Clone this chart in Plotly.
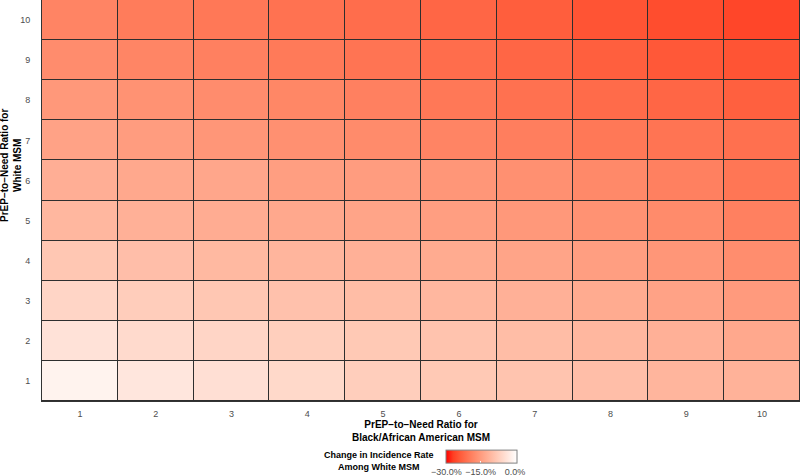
import plotly.graph_objs as go

# PrEP-to-Need ratios (axes) and change in incidence among White MSM (%)
black_ratio = [1, 2, 3, 4, 5, 6, 7, 8, 9, 10]
white_ratio = [1, 2, 3, 4, 5, 6, 7, 8, 9, 10]

# one list per white ratio (row), values across black ratio (columns)
chg_w1 = [-1.3, -3.4, -4.5, -5.6, -7.4, -8.2, -9.0, -9.9, -11.3, -11.7]
chg_w2 = [-4.0, -5.3, -6.2, -7.2, -8.2, -9.1, -10.1, -11.0, -12.0, -13.3]
chg_w3 = [-6.2, -7.5, -8.5, -9.4, -10.1, -11.0, -12.0, -12.9, -14.2, -15.4]
chg_w4 = [-8.5, -9.8, -10.7, -11.3, -12.0, -12.9, -13.9, -14.9, -16.0, -17.3]
chg_w5 = [-11.0, -12.0, -12.6, -13.3, -13.9, -14.9, -15.7, -16.6, -17.7, -19.2]
chg_w6 = [-12.3, -13.3, -13.6, -14.9, -15.1, -16.0, -16.9, -17.9, -19.2, -20.6]
chg_w7 = [-14.2, -15.1, -16.0, -16.9, -17.7, -18.6, -19.5, -20.4, -20.9, -21.4]
chg_w8 = [-15.7, -16.6, -17.5, -18.3, -19.2, -20.4, -21.3, -22.1, -22.8, -23.5]
chg_w9 = [-17.5, -18.5, -19.2, -20.1, -20.9, -21.9, -22.8, -23.7, -24.5, -24.9]
chg_w10 = [-18.6, -19.8, -20.4, -21.2, -21.9, -22.8, -23.8, -24.9, -25.7, -26.4]

cbar_ticks = [-30, -15, 0]
cbar_labels = ["\u221230.0%", "\u221215.0%", "0.0%"]
z_low, z_high = -30.4, 0.7


def lab_scale(n=11):
    # red -> white, interpolated in Lab like ggplot's gradient
    def to_lab(r, g, b):
        def lin(c):
            c = c / 255
            return c / 12.92 if c <= 0.04045 else ((c + 0.055) / 1.055) ** 2.4
        r, g, b = lin(r), lin(g), lin(b)
        x = (0.4124 * r + 0.3576 * g + 0.1805 * b) / 0.95047
        y = 0.2126 * r + 0.7152 * g + 0.0722 * b
        zz = (0.0193 * r + 0.1192 * g + 0.9505 * b) / 1.08883
        f = lambda t: t ** (1 / 3) if t > 0.008856 else 7.787 * t + 16 / 116
        fx, fy, fz = f(x), f(y), f(zz)
        return 116 * fy - 16, 500 * (fx - fy), 200 * (fy - fz)

    def to_rgb(L, a, b):
        fy = (L + 16) / 116
        fx = fy + a / 500
        fz = fy - b / 200
        finv = lambda t: t ** 3 if t ** 3 > 0.008856 else (t - 16 / 116) / 7.787
        x, y, zz = 0.95047 * finv(fx), finv(fy), 1.08883 * finv(fz)
        r = 3.2406 * x - 1.5372 * y - 0.4986 * zz
        g = -0.9689 * x + 1.8758 * y + 0.0415 * zz
        bb = 0.0557 * x - 0.2040 * y + 1.0570 * zz

        def gam(c):
            c = min(max(c, 0), 1)
            c = 12.92 * c if c <= 0.0031308 else 1.055 * c ** (1 / 2.4) - 0.055
            return int(round(c * 255))
        return "rgb({},{},{})".format(gam(r), gam(g), gam(bb))

    lo = to_lab(255, 0, 0)
    hi = to_lab(255, 255, 255)
    out = []
    for i in range(n):
        t = i / (n - 1)
        out.append([t, to_rgb(*[lo[k] + t * (hi[k] - lo[k]) for k in range(3)])])
    return out


z = [chg_w1, chg_w2, chg_w3, chg_w4, chg_w5, chg_w6, chg_w7, chg_w8, chg_w9, chg_w10]

W, H = 800, 476
ml, mr, mt, mb = 42, 0, 0, 75
pw, ph = W - ml - mr, H - mt - mb


def px(xp):
    return (xp - ml) / pw


def py(yp):
    return (ph + mt - yp) / ph


fig = go.Figure()
fig.add_trace(go.Heatmap(
    x=black_ratio, y=white_ratio, z=z,
    zmin=z_low, zmax=z_high,
    colorscale=lab_scale(),
    xgap=1, ygap=1,
    colorbar=dict(
        orientation="h",
        x=px(481), xanchor="center",
        y=py(465), yanchor="middle",
        lenmode="pixels", len=71,
        thicknessmode="pixels", thickness=13,
        xpad=0, ypad=0,
        outlinewidth=1, outlinecolor="#808080",
        tickvals=cbar_ticks, ticktext=cbar_labels,
        ticks="inside", ticklen=2, tickcolor="white", tickwidth=1,
        tickfont=dict(size=9, color="#4d4d4d", family="Liberation Sans"),
    ),
))

fig.update_layout(
    width=W, height=H,
    margin=dict(l=ml, r=mr, t=mt, b=mb, autoexpand=False),
    paper_bgcolor="white",
    plot_bgcolor="#2e2e2e",
    font=dict(family="Liberation Sans", color="black"),
    xaxis=dict(
        range=[0.5, 10.5], tickvals=black_ratio, showgrid=False, zeroline=False,
        showline=True, mirror=True, linecolor="#333333", linewidth=1,
        ticks="", ticklabelstandoff=4, automargin=False,
        tickfont=dict(size=9, color="#4d4d4d"),
    ),
    yaxis=dict(
        range=[0.5, 10.5], tickvals=white_ratio, showgrid=False, zeroline=False,
        showline=True, mirror=True, linecolor="#333333", linewidth=1,
        ticks="", ticklabelstandoff=9, automargin=False,
        tickfont=dict(size=9, color="#4d4d4d"),
    ),
    annotations=[
        dict(text="<b>PrEP\u2212to\u2212Need Ratio for<br>Black/African American MSM</b>",
             x=0.5, y=py(431), xref="paper", yref="paper", showarrow=False,
             xanchor="center", yanchor="middle", align="center",
             font=dict(size=10, color="black")),
        dict(text="<b>PrEP\u2212to\u2212Need Ratio for<br>White MSM</b>",
             x=px(11), y=py(166), xref="paper", yref="paper", showarrow=False,
             xanchor="center", yanchor="middle", align="center", textangle=-90,
             font=dict(size=10, color="black")),
        dict(text="<b>Change in Incidence Rate<br>Among White MSM</b>",
             x=px(379), y=py(461), xref="paper", yref="paper", showarrow=False,
             xanchor="center", yanchor="middle", align="center",
             font=dict(size=9, color="black")),
    ],
)

# the page body has a default 8px margin; drop it so the figure fills the window
fig.write_html("out.html", config={"displayModeBar": False},
               post_script="document.body.style.margin='0';")
